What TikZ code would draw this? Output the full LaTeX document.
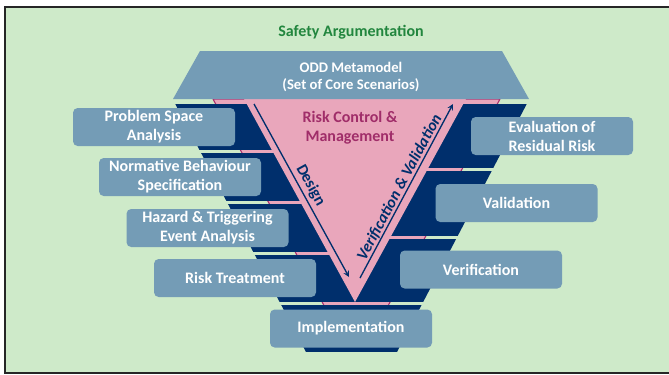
\documentclass[tikz,border=0pt]{standalone}
\usepackage{fontspec}
\setmainfont{Carlito}

\begin{document}
\begin{tikzpicture}[x=0.75pt,y=0.75pt,yscale=-1,xscale=1,
  box/.style={fill={rgb, 255:red, 116; green, 156; blue, 182 }, rounded corners=3.5pt, text=white, align=center, inner sep=0pt, minimum width=121.5pt, minimum height=28.5pt, font=\fontsize{12}{14.3}\selectfont\bfseries},
  navy/.style={fill={rgb, 255:red, 0; green, 47; blue, 108 }},
  pinkfill/.style={fill={rgb, 255:red, 233; green, 166; blue, 187 }},
  flow/.style={draw={rgb, 255:red, 0; green, 47; blue, 108 }, line width=1pt, -stealth},
  flowlabel/.style={text={rgb, 255:red, 0; green, 47; blue, 108 }, font=\fontsize{12}{14}\selectfont\bfseries, anchor=south}]
\useasboundingbox (0,0) rectangle (669,375);

%Shape: Background
\fill [fill={rgb, 255:red, 206; green, 234; blue, 201 }] (5,7) rectangle (669,373);
\draw [color={rgb, 255:red, 38; green, 38; blue, 38 }, line width=1.1pt] (669,7) -- (5,7) -- (5,373) -- (669,373);

% Text Node
\node (title) at (351,32) [text={rgb, 255:red, 34; green, 134; blue, 62 }, font=\fontsize{12}{14}\selectfont\bfseries] {Safety Argumentation};

%Shape: Triangle (back)
\begin{scope}
\clip (150,95) rectangle (560,348);
\draw [pinkfill, draw={rgb, 255:red, 170; green, 45; blue, 110 }, line width=0.8pt] (213,99) -- (500,99) -- (356,365) -- cycle;
\end{scope}

%Shape: Funnel bands
\begin{scope}
\clip (175,103.5) -- (527,103.5) -- (397,352) -- (306,352) -- cycle;
% left side
\fill [navy] (150,103.5) rectangle (355,150);
\fill [navy] (150,153) rectangle (355,200.5);
\fill [navy] (150,203.5) rectangle (355,251.5);
\fill [navy] (150,254.5) rectangle (355,302);
% right side
\fill [navy] (355,103.5) rectangle (560,168);
\fill [navy] (355,171) rectangle (560,235.5);
\fill [navy] (355,238.5) rectangle (560,302);
% bottom
\fill [navy] (150,305) rectangle (560,352);
\end{scope}

%Shape: Triangle (front)
\fill [pinkfill] (244,99) -- (466,99) -- (355,302) -- cycle;

%Shape: Trapezoid
\fill [fill={rgb, 255:red, 116; green, 156; blue, 182 }] (200,51) -- (502,51) -- (529,99) -- (173,99) -- cycle;
% Text Node
\node (odd) at (351,76.5) [text=white, align=center, font=\fontsize{11}{12.8}\selectfont\bfseries] {ODD Metamodel\\(Set of Core Scenarios)};

% Text Node
\node (risk) at (350,127.5) [text={rgb, 255:red, 160; green, 45; blue, 105 }, align=center, font=\fontsize{12}{14.3}\selectfont\bfseries] {Risk Control \&\\Management};

%Straight Lines
\coordinate (dsgA) at (254,104);
\coordinate (dsgB) at (349,277);
\coordinate (vvA) at (360,278);
\coordinate (vvB) at (453,104);
\draw [flow] (dsgA) -- (dsgB) node [flowlabel, midway, rotate=-61.2, inner sep=2pt] {Design};
\draw [flow] (vvA) -- (vvB) node [flowlabel, midway, rotate=61.9, inner sep=0.5pt] {\itshape Verification \& Validation};

% Text Node
\node (prob) at (154,127) [box] {Problem Space\\Analysis};
\node (norm) at (180,177) [box] {Normative Behaviour\\Specification};
\node (haz) at (207.5,228) [box] {Hazard \& Triggering\\Event Analysis};
\node (treat) at (235,278) [box] {Risk Treatment};
\node (impl) at (351,328.5) [box] {Implementation};
\node (verif) at (481,269.5) [box] {Verification};
\node (valid) at (516.5,203) [box] {Validation};
\node (resid) at (552,136) [box] {Evaluation of\\Residual Risk};

\end{tikzpicture}
\end{document}
